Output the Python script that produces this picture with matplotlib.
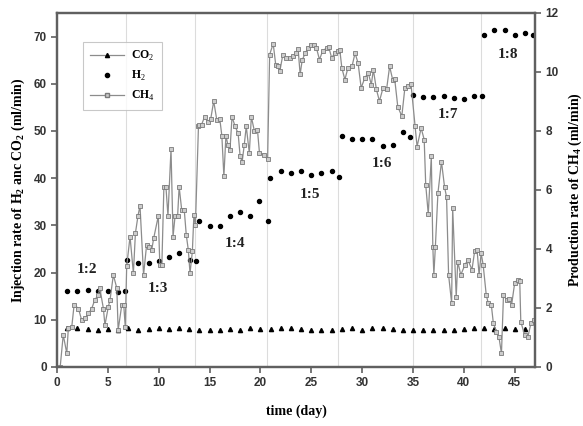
import matplotlib
matplotlib.use("Agg")
import matplotlib.pyplot as plt
from matplotlib.lines import Line2D

# ---- data ----
co2_days = list(range(1, 47))
co2_rate = [8.2, 8.3, 8.0, 7.8, 8.0, 7.8, 8.2, 7.8, 8.0, 8.2,
            8.0, 8.3, 8.0, 7.8, 7.8, 7.8, 8.0, 7.9, 8.2, 8.0,
            8.0, 8.2, 8.2, 8.0, 7.8, 7.8, 7.9, 8.0, 8.2, 7.9,
            8.2, 8.3, 8.0, 7.9, 7.9, 7.9, 7.8, 7.9, 7.9, 8.0,
            8.2, 8.2, 8.0, 8.2, 8.0, 8.0]

h2_days = [1, 2, 3, 4, 5, 6, 6.7,
           6.9, 8, 9, 10, 11, 12, 13.07, 13.7,
           14, 15, 16, 17, 18, 19, 19.9, 20.7,
           20.9, 22, 23, 24, 25, 26, 27, 27.7,
           28, 29, 30, 31, 32, 33, 34, 34.7,
           35, 36, 37, 38, 39, 40, 41, 41.8,
           42, 43, 44, 45, 46, 46.8]
h2_rate = [16, 16, 16.3, 16, 16, 15.8, 16.2,
           22.7, 22, 22, 22.4, 23.2, 24.1, 22.7, 22.5,
           31, 29.9, 29.9, 32, 32.9, 32, 35.1, 31,
           40, 41.6, 41.1, 41.6, 40.6, 41.1, 41.6, 40.2,
           48.9, 48.2, 48.4, 48.2, 46.9, 47.1, 49.7, 48.8,
           57.6, 57.1, 57.3, 57.4, 56.9, 56.8, 57.5, 57.5,
           70.3, 71.3, 71.5, 70.3, 70.8, 70.3]

ch4_days = [0.3, 0.6, 0.95, 1.1, 1.44, 1.67, 2.1, 2.4, 2.75, 3.08, 3.4, 3.7,
            4.06, 4.2, 4.55, 4.7, 5.04, 5.2, 5.53, 5.87, 6.0, 6.36, 6.55, 6.7,
            6.84, 7.17, 7.5, 7.7, 7.95, 8.15, 8.5, 8.8, 9.0, 9.3, 9.5, 9.95,
            10.1, 10.3, 10.5, 10.7, 10.9, 11.2, 11.4, 11.6, 11.85, 12.0, 12.25,
            12.5, 12.7, 12.9, 13.07, 13.3, 13.45, 13.6,
            13.9, 14.0, 14.2, 14.5, 14.8, 15.1, 15.4, 15.7, 16.0, 16.2, 16.4,
            16.6, 16.8, 17.0, 17.2, 17.5, 17.8, 18.0, 18.2, 18.4, 18.6, 18.9,
            19.1, 19.4, 19.7, 19.9, 20.3, 20.7,
            20.9, 21.25, 21.5, 21.7, 21.9, 22.2, 22.5, 22.9, 23.2, 23.5, 23.7,
            23.9, 24.1, 24.4, 24.7, 25.0, 25.3, 25.5, 25.8, 26.1, 26.5, 26.7,
            27.0, 27.3, 27.6, 27.8,
            28.0, 28.3, 28.6, 29.0, 29.3, 29.6, 29.9, 30.25, 30.6, 30.9, 31.1,
            31.4, 31.7, 32.05, 32.4, 32.7, 33.0, 33.2, 33.5, 33.9, 34.2, 34.5, 34.8,
            35.2, 35.4, 35.8, 36.1, 36.25, 36.5, 36.8, 36.95, 37.05, 37.2, 37.45,
            37.8, 38.1, 38.3, 38.5, 38.8, 38.9, 39.25, 39.4, 39.7, 40.1, 40.4,
            40.8, 41.06, 41.3, 41.5, 41.7, 41.9,
            42.2, 42.4, 42.7, 42.9, 43.2, 43.45, 43.7, 43.9, 44.2, 44.45, 44.7,
            45.0, 45.3, 45.5, 45.6, 45.97, 46.3, 46.6, 46.9]
ch4_rate = [0.00, 1.09, 0.46, 1.31, 1.36, 2.11, 1.98, 1.60, 1.65, 1.82, 1.98, 2.27,
            2.45, 2.67, 1.98, 1.42, 2.05, 2.27, 3.12, 2.67, 1.25, 2.11, 2.11, 1.36,
            3.41, 4.42, 3.18, 4.54, 5.12, 5.47, 3.12, 4.14, 4.08, 3.97, 4.37, 5.12,
            3.46, 3.46, 6.11, 6.11, 5.12, 7.39, 4.42, 5.12, 5.12, 6.11, 5.33,
            5.33, 4.48, 3.97, 3.18, 3.92, 5.15, 4.80,
            8.16, 8.21, 8.21, 8.48, 8.32, 8.40, 9.01, 8.38, 8.40, 7.84, 6.46,
            7.84, 7.52, 7.36, 8.48, 8.16, 7.92, 7.14, 6.96, 7.52, 8.16, 7.25,
            8.48, 8.00, 8.05, 7.25, 7.20, 7.04,
            10.59, 10.96, 10.24, 10.19, 10.02, 10.59, 10.48, 10.48, 10.53, 10.64, 10.78,
            9.92, 10.40, 10.64, 10.82, 10.93, 10.93, 10.82, 10.42, 10.70, 10.82, 10.86,
            10.48, 10.64, 10.70, 10.75,
            10.14, 9.74, 10.14, 10.19, 10.64, 10.30, 9.46, 9.79, 9.97, 9.57, 10.08,
            9.41, 9.01, 9.46, 9.41, 10.19, 9.74, 9.76, 8.83, 8.50, 9.46, 9.52, 9.60,
            8.16, 7.47, 8.10, 7.71, 6.18, 5.18, 7.14, 4.08, 3.12, 4.08, 5.89,
            6.96, 6.11, 5.76, 3.12, 2.16, 5.39, 2.38, 3.57, 3.12, 3.46, 3.63,
            3.30, 3.92, 3.97, 3.12, 3.86, 3.46,
            2.45, 2.16, 2.11, 1.49, 1.20, 1.02, 0.46, 2.45, 2.27, 2.32, 2.11,
            2.85, 2.96, 2.91, 1.54, 1.09, 1.02, 1.49, 1.60]

ratio_labels = ["1:2", "1:3", "1:4", "1:5", "1:6", "1:7", "1:8"]
ratio_x = [2.9, 9.95, 17.5, 24.9, 31.9, 38.4, 44.3]
ratio_y = [20.7, 16.7, 26.2, 36.5, 43.2, 53.5, 66.2]
stage_bounds = [6.75, 13.6, 20.6, 27.6, 35.0, 41.7]

# ---- plot ----
serif = "Liberation Serif"
sans = "Liberation Sans"
plt.rcParams["mathtext.fontset"] = "custom"
plt.rcParams["mathtext.rm"] = serif
plt.rcParams["mathtext.bf"] = serif + ":bold"

fig = plt.figure(figsize=(5.83, 4.26), dpi=100)
ax = fig.add_axes([0.098, 0.1385, 0.8197, 0.831])
ax2 = ax.twinx()

for b in stage_bounds:
    ax.axvline(b, color="#dcdcdc", lw=0.8, zorder=0)

ax.plot(co2_days, co2_rate, ls="none", marker="^", ms=3.0, color="black", zorder=3)
ax.plot(h2_days, h2_rate, ls="none", marker="o", ms=2.9, color="black", zorder=3)
ax2.plot(ch4_days, ch4_rate, ls="-", lw=0.9, color="#8c8c8c", marker="s", ms=2.9,
         mfc="#cccccc", mec="#7a7a7a", mew=0.6, zorder=2)

for t, x, y in zip(ratio_labels, ratio_x, ratio_y):
    ax.text(x, y, t, family=serif, weight="bold", fontsize=11, ha="center", va="center",
            color="#222222")

ax.set_xlim(0, 47)
ax.set_ylim(0, 75)
ax2.set_ylim(0, 12)
ax.set_xticks(range(0, 46, 5))
ax.set_yticks(range(0, 71, 10))
ax2.set_yticks(range(0, 13, 2))

for a in (ax, ax2):
    for s in a.spines.values():
        s.set_color("#606060")
        s.set_linewidth(1.6)
    a.tick_params(direction="out", length=4, width=1.2, color="#606060",
                  labelsize=8.5)
    for lab in a.get_xticklabels() + a.get_yticklabels():
        lab.set_family(sans)
        lab.set_fontweight("bold")
        lab.set_color("#333333")

ax.set_xlabel("time (day)", family=serif, weight="bold", fontsize=10, labelpad=11)
ax.set_ylabel("Injection rate of H$_\\mathbf{2}$ anc CO$_\\mathbf{2}$ (ml/min)",
              family=serif, weight="bold", fontsize=10, labelpad=5)
ax2.set_ylabel("Production rate of CH$_\\mathbf{4}$ (ml/min)",
               family=serif, weight="bold", fontsize=10, labelpad=6)

handles = [
    Line2D([], [], color="#8c8c8c", lw=0.9, marker="^", ms=3.0, mfc="black", mec="black"),
    Line2D([], [], ls="none", marker="o", ms=3.0, color="black"),
    Line2D([], [], color="#8c8c8c", lw=0.9, marker="s", ms=2.9, mfc="#cccccc", mec="#7a7a7a"),
]
leg = ax.legend(handles, ["CO$_2$", "H$_2$", "CH$_4$"], loc="upper left",
                bbox_to_anchor=(0.05, 0.925), frameon=True, fancybox=False,
                edgecolor="#bbbbbb", handlelength=2.8, handletextpad=0.6,
                borderpad=0.6, borderaxespad=0.2,
                labelspacing=0.5, prop={"family": serif, "weight": "bold", "size": 8.5})
leg.get_frame().set_linewidth(0.8)

fig.savefig("out.png", dpi=100)
